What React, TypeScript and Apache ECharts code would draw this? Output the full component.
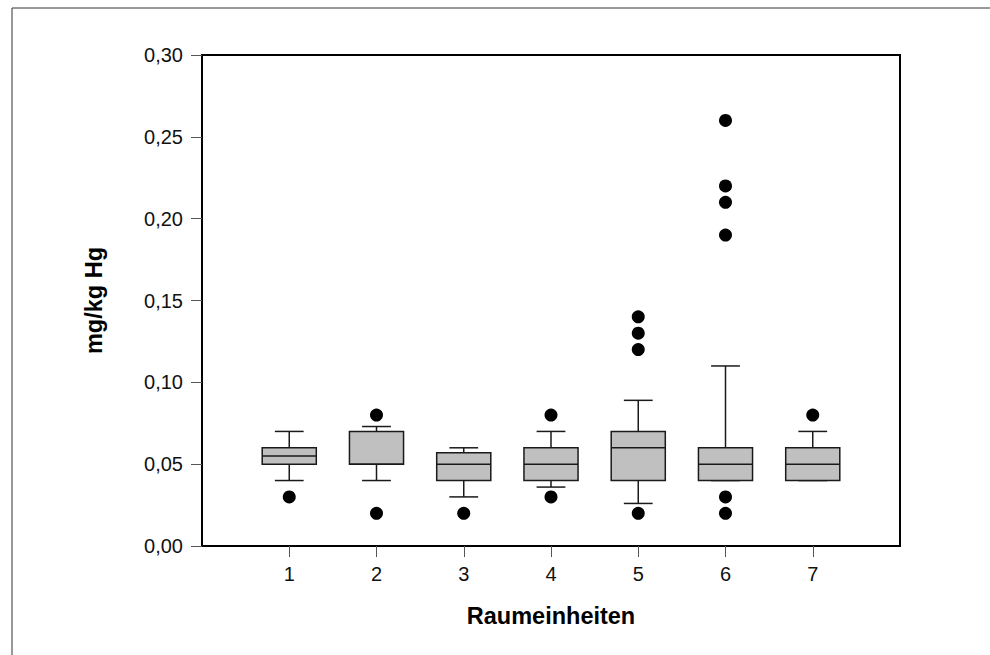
import React, { useEffect, useRef } from "react";
import * as echarts from "echarts";

const categories = ["", "1", "2", "3", "4", "5", "6", "7", ""];
const groupIndex = [1, 2, 3, 4, 5, 6, 7];
const whiskerLow = [0.04, 0.04, 0.03, 0.036, 0.026, 0.04, 0.04];
const quartile1 = [0.05, 0.05, 0.04, 0.04, 0.04, 0.04, 0.04];
const medians = [0.055, 0.05, 0.05, 0.05, 0.06, 0.05, 0.05];
const quartile3 = [0.06, 0.07, 0.057, 0.06, 0.07, 0.06, 0.06];
const whiskerHigh = [0.07, 0.073, 0.06, 0.07, 0.089, 0.11, 0.07];
const outlierGroup = [1, 2, 2, 3, 4, 4, 5, 5, 5, 5, 6, 6, 6, 6, 6, 6, 7];
const outlierValue = [0.03, 0.08, 0.02, 0.02, 0.08, 0.03, 0.02, 0.12, 0.13, 0.14, 0.02, 0.03, 0.19, 0.21, 0.22, 0.26, 0.08];
const yTicks = { min: 0, max: 0.3, interval: 0.05 };
const yTitle = "mg/kg Hg";
const xTitle = "Raumeinheiten";

const FONT = 'Arial, "Liberation Sans", sans-serif';

export default function App() {
  const ref = useRef<HTMLDivElement>(null);
  useEffect(() => {
    if (!ref.current) return;
    const chart = echarts.init(ref.current, undefined, { renderer: "svg" });
    const boxData = groupIndex.map((g, i) => [g, whiskerLow[i], quartile1[i], medians[i], quartile3[i], whiskerHigh[i]]);
    const outData = outlierGroup.map((g, i) => [g, outlierValue[i]]);
    const stroke = "#1a1a1a";
    chart.setOption({
      animation: false,
      textStyle: { fontFamily: FONT },
      grid: { left: 202, top: 55, right: 90, bottom: 109, show: true, borderColor: "#000", borderWidth: 2, backgroundColor: "transparent" },
      graphic: [
        { type: "line", shape: { x1: 12, y1: 8, x2: 990, y2: 8 }, style: { stroke: "#333", lineWidth: 1 } },
        { type: "line", shape: { x1: 12, y1: 8, x2: 12, y2: 655 }, style: { stroke: "#333", lineWidth: 1 } },
      ],
      xAxis: {
        type: "category",
        data: categories,
        boundaryGap: false,
        name: xTitle,
        nameLocation: "middle",
        nameGap: 58,
        nameTextStyle: { fontSize: 23.5, fontWeight: "bold", color: "#000", fontFamily: FONT },
        axisLine: { show: true, lineStyle: { color: "#000", width: 2 } },
        axisTick: { show: true, length: 11, interval: (_i: number, v: string) => v !== "", lineStyle: { color: "#555", width: 1 } },
        axisLabel: { interval: 0, margin: 18, fontSize: 20, color: "#111", fontFamily: FONT },
        splitLine: { show: false },
      },
      yAxis: {
        type: "value",
        min: yTicks.min,
        max: yTicks.max,
        interval: yTicks.interval,
        name: yTitle,
        nameLocation: "middle",
        nameGap: 96,
        nameRotate: 90,
        nameTextStyle: { fontSize: 23.5, fontWeight: "bold", color: "#000", fontFamily: FONT },
        axisLine: { show: true, lineStyle: { color: "#000", width: 2 } },
        axisTick: { show: true, length: 11, lineStyle: { color: "#555", width: 1 } },
        axisLabel: { margin: 19, fontSize: 20, color: "#111", fontFamily: FONT, formatter: (v: number) => v.toFixed(2).replace(".", ",") },
        splitLine: { show: false },
      },
      series: [
        {
          type: "custom",
          data: boxData,
          encode: { x: 0, y: [1, 2, 3, 4, 5] },
          clip: false,
          renderItem: (_params: any, api: any) => {
            const g = api.value(0);
            const band = api.size([1, 0])[0];
            const hw = band * 0.31;
            const cw = band * 0.165;
            const pLo = api.coord([g, api.value(1)]);
            const pQ1 = api.coord([g, api.value(2)]);
            const pMed = api.coord([g, api.value(3)]);
            const pQ3 = api.coord([g, api.value(4)]);
            const pHi = api.coord([g, api.value(5)]);
            const x = pMed[0];
            const ls = { stroke, lineWidth: 1.5 };
            return {
              type: "group",
              children: [
                { type: "line", shape: { x1: x, y1: pQ3[1], x2: x, y2: pHi[1] }, style: ls },
                { type: "line", shape: { x1: x - cw, y1: pHi[1], x2: x + cw, y2: pHi[1] }, style: ls },
                { type: "line", shape: { x1: x, y1: pQ1[1], x2: x, y2: pLo[1] }, style: ls },
                { type: "line", shape: { x1: x - cw, y1: pLo[1], x2: x + cw, y2: pLo[1] }, style: ls },
                { type: "rect", shape: { x: x - hw, y: pQ3[1], width: hw * 2, height: pQ1[1] - pQ3[1] }, style: { fill: "#c0c0c0", stroke, lineWidth: 1.5 } },
                { type: "line", shape: { x1: x - hw, y1: pMed[1], x2: x + hw, y2: pMed[1] }, style: ls },
              ],
            };
          },
        },
        {
          type: "scatter",
          data: outData,
          symbol: "circle",
          symbolSize: 13,
          itemStyle: { color: "#000", opacity: 1 },
          clip: false,
        },
      ],
    });
    return () => chart.dispose();
  }, []);
  return <div ref={ref} style={{ position: "fixed", left: 0, top: 0, width: 990, height: 655, background: "#fff" }} />;
}
